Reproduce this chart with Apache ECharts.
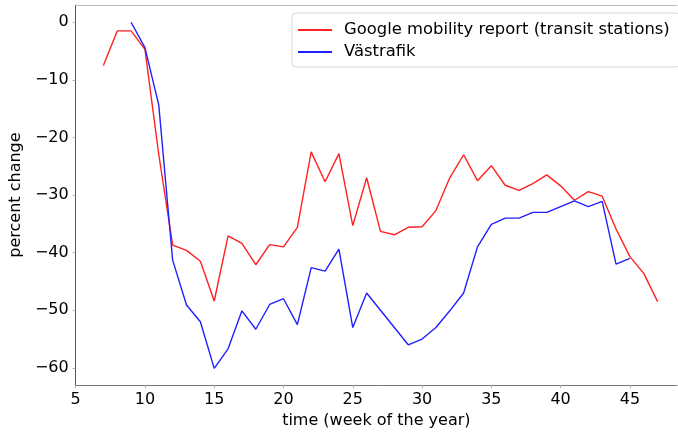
<!DOCTYPE html>
<html>
<head>
<meta charset="utf-8">
<script src="https://cdn.jsdelivr.net/npm/echarts@6/dist/echarts.min.js"></script>
<style>
  html, body { margin: 0; padding: 0; background: #fff; }
  #chart { width: 678px; height: 434px; }
</style>
</head>
<body>
<div id="chart"></div>
<script>
// week numbers
var googleWeeks = [7, 8, 9, 10, 11, 12, 13, 14, 15, 16, 17, 18, 19, 20, 21, 22, 23, 24, 25, 26, 27,
  28, 29, 30, 31, 32, 33, 34, 35, 36, 37, 38, 39, 40, 41, 42, 43, 44, 45, 46, 47];
var googleValues = [-7.5, -1.5, -1.5, -4.7, -23, -38.7, -39.6, -41.5, -48.4, -37.1, -38.4, -42.1, -38.6, -39.0,
  -35.6, -22.5, -27.7, -22.8, -35.3, -27.0, -36.3, -36.9, -35.6, -35.5, -32.7, -27.0, -23.0,
  -27.5, -24.9, -28.3, -29.2, -28.0, -26.5, -28.4, -30.9, -29.4, -30.2, -35.9, -40.7, -43.6, -48.5];

var vtWeeks = [9, 10, 11, 12, 13, 14, 15, 16, 17, 18, 19, 20, 21, 22, 23, 24, 25, 26, 27,
  28, 29, 30, 31, 32, 33, 34, 35, 36, 37, 38, 39, 40, 41, 42, 43, 44, 45];
var vtValues = [0, -4.4, -14.4, -41.3, -49.1, -52.0, -60.1, -56.7, -50.1, -53.3, -49.0, -48.0, -52.5,
  -42.6, -43.2, -39.4, -53.0, -47.0, -50.0, -53.0, -56.0, -55.0, -53.0, -50.1, -47.0,
  -39.0, -35.1, -34.0, -34.0, -33.0, -33.0, -32.0, -31.0, -32.0, -31.1, -42.0, -41.0];

var xTicks = [5, 10, 15, 20, 25, 30, 35, 40, 45];
var yTicks = [0, -10, -20, -30, -40, -50, -60];

function pairs(xs, ys) {
  return xs.map(function (x, i) { return [x, ys[i]]; });
}

var FONT = "DejaVu Sans";
var chart = echarts.init(document.getElementById("chart"), null, { renderer: "canvas" });

var option = {
  animation: false,
  grid: {
    left: 74,
    top: 5,
    right: 1,
    bottom: 46
  },
  legend: {
    orient: "vertical",
    left: 292,
    top: 13,
    padding: [8, 10, 6, 6],
    itemGap: 4,
    itemWidth: 34,
    itemHeight: 2,
    icon: "rect",
    borderColor: "#d6d6d6",
    borderWidth: 1,
    borderRadius: 4,
    backgroundColor: "#fff",
    textStyle: {
      fontFamily: FONT,
      fontSize: 16.4,
      lineHeight: 18,
      color: "#000",
      padding: [0, 0, 0, 7]
    },
    data: ["Google mobility report (transit stations)", "Västrafik"]
  },
  xAxis: [
    {
      type: "value",
      min: 5,
      max: 48.4,
      name: "time (week of the year)",
      nameLocation: "middle",
      nameGap: 24,
      nameTextStyle: { fontFamily: FONT, fontSize: 16, color: "#000" },
      splitLine: { show: false },
      axisLine: { show: true, onZero: false, lineStyle: { color: "#777", width: 1 } },
      axisTick: { show: true, length: 3, customValues: xTicks, lineStyle: { color: "#aaa" } },
      axisLabel: {
        customValues: xTicks,
        margin: 7,
        fontFamily: FONT,
        fontSize: 16,
        color: "#000"
      }
    },
    {
      type: "value",
      position: "top",
      min: 5,
      max: 48.4,
      splitLine: { show: false },
      axisLine: { show: true, onZero: false, lineStyle: { color: "#bbb", width: 1 } },
      axisTick: { show: false },
      axisLabel: { show: false }
    }
  ],
  yAxis: {
    type: "value",
    min: -63,
    max: 3,
    name: "percent change",
    nameLocation: "middle",
    nameGap: 38,
    nameTextStyle: { fontFamily: FONT, fontSize: 16, color: "#000" },
    splitLine: { show: false },
    axisLine: { show: true, onZero: false, lineStyle: { color: "#555", width: 1 } },
    axisTick: { show: true, length: 3, customValues: yTicks, lineStyle: { color: "#aaa" } },
    axisLabel: {
      customValues: yTicks,
      margin: 7,
      fontFamily: FONT,
      fontSize: 16,
      color: "#000",
      formatter: function (v) { return String(v).replace("-", "\u2212"); }
    }
  },
  series: [
    {
      name: "Google mobility report (transit stations)",
      type: "line",
      data: pairs(googleWeeks, googleValues),
      showSymbol: false,
      symbol: "none",
      color: "#ff2020",
      lineStyle: { width: 1.4, color: "#ff2020" }
    },
    {
      name: "Västrafik",
      type: "line",
      data: pairs(vtWeeks, vtValues),
      showSymbol: false,
      symbol: "none",
      color: "#2020ff",
      lineStyle: { width: 1.4, color: "#2020ff" }
    }
  ]
};

chart.setOption(option);
</script>
</body>
</html>
